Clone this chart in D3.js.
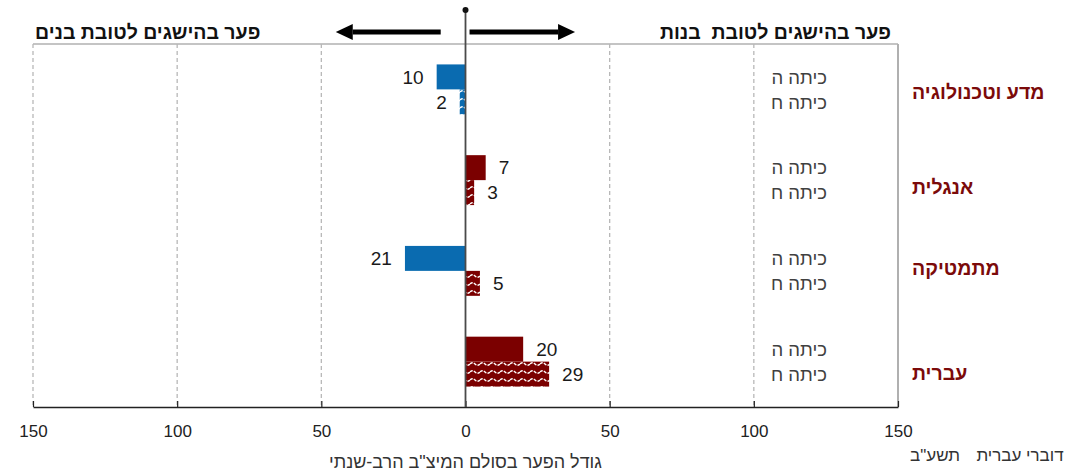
<!DOCTYPE html>
<html lang="he">
<head>
<meta charset="utf-8">
<script src="https://cdn.jsdelivr.net/npm/d3@7"></script>
<style>
  html, body { margin: 0; padding: 0; background: #fff; }
  svg { display: block; font-family: "Liberation Sans", Arial, sans-serif; }
  .keep-spaces { white-space: pre; }
</style>
</head>
<body>
<svg id="chart" width="1068" height="476"></svg>
<script>
// Achievement gap (girls minus boys) on the multi-year MEITZAV scale, Hebrew speakers
const subjects = ["מדע וטכנולוגיה", "אנגלית", "מתמטיקה", "עברית"];
const grades = ["כיתה ה", "כיתה ח"];
const gapGrade5 = [-10, 7, -21, 20];
const gapGrade8 = [-2, 3, 5, 29];
const tickValues = [-150, -100, -50, 0, 50, 100, 150];
const headerBoys = "פער בהישגים לטובת בנים";
const headerGirls = "פער בהישגים לטובת  בנות";
const axisTitle = "גודל הפער בסולם המיצ\"ב הרב-שנתי";
const yearNote = "תשע\"ב";
const groupNote = "דוברי עברית";

// vertical nudges for the subject names (layout only)
const subjectLabelShift = [3, 7, -3, 11];

const svg = d3.select("#chart");
const plot = { left: 33, right: 898, top: 44, bottom: 407 };

const x = d3.scaleLinear().domain([-150, 150]).range([plot.left, plot.right]);
const y = d3.scaleBand().domain(subjects).range([plot.top, plot.bottom])
  .paddingInner(0.45).paddingOuter(0.225);
const yGrade = d3.scaleBand().domain(grades).range([0, y.bandwidth()]);

const rows = [];
subjects.forEach((s, i) => {
  rows.push({ subject: s, grade: grades[0], value: gapGrade5[i] });
  rows.push({ subject: s, grade: grades[1], value: gapGrade8[i] });
});

const RED = "#7b0000", BLUE = "#0a6bb0";

// wavy hatching used for the grade 8 bars
const defs = svg.append("defs");
[["waveRed", RED], ["waveBlue", BLUE]].forEach(([id, c]) => {
  const p = defs.append("pattern").attr("id", id)
    .attr("patternUnits", "userSpaceOnUse").attr("width", 10).attr("height", 8);
  p.append("rect").attr("width", 10).attr("height", 8).attr("fill", c);
  p.append("path").attr("d", "M0,4 Q2.5,1.5 5,4 T10,4")
    .attr("fill", "none").attr("stroke", "#fff").attr("stroke-width", 1.3)
    .attr("stroke-dasharray", "3,1.2");
});

// top frame line
svg.append("line").attr("x1", plot.left).attr("x2", plot.right)
  .attr("y1", plot.top).attr("y2", plot.top)
  .attr("stroke", "#c4c4c4").attr("stroke-width", 2);

// gridlines (dashed) and right frame (solid)
svg.append("g").selectAll("line")
  .data(tickValues.filter(v => v !== 0))
  .join("line")
  .attr("x1", d => x(d)).attr("x2", d => x(d))
  .attr("y1", plot.top).attr("y2", plot.bottom)
  .attr("stroke", d => d === 150 ? "#b0b0b0" : "#b8b8b8")
  .attr("stroke-width", d => d === 150 ? 2 : 1.3)
  .attr("stroke-dasharray", d => d === 150 ? null : "4,3");

// bottom axis
const axis = d3.axisBottom(x).tickValues(tickValues)
  .tickFormat(d => Math.abs(d)).tickSize(0).tickPadding(18);
const gx = svg.append("g").attr("transform", `translate(0,${plot.bottom})`).call(axis);
gx.select(".domain").attr("stroke", "#222").attr("stroke-width", 1.5);
gx.selectAll(".tick text").attr("font-size", 17).attr("fill", "#222")
  .attr("font-family", "'Liberation Sans Narrow', 'Liberation Sans', Arial, sans-serif");
gx.selectAll(".tick").append("line").attr("y1", 0).attr("y2", -6)
  .attr("stroke", "#222").attr("stroke-width", 1.2);

// bars
const barY = d => y(d.subject) + yGrade(d.grade);
svg.append("g").selectAll("rect")
  .data(rows)
  .join("rect")
  .attr("x", d => x(Math.min(0, d.value)))
  .attr("width", d => Math.abs(x(d.value) - x(0)))
  .attr("y", barY)
  .attr("height", yGrade.bandwidth())
  .attr("fill", d => {
    const neg = d.value < 0;
    if (d.grade === grades[0]) return neg ? BLUE : RED;
    return neg ? "url(#waveBlue)" : "url(#waveRed)";
  });

// value labels
svg.append("g").selectAll("text")
  .data(rows)
  .join("text")
  .attr("x", d => d.value < 0 ? x(d.value) - 13 : x(d.value) + 13)
  .attr("y", d => barY(d) + yGrade.bandwidth() / 2)
  .attr("dy", "0.36em")
  .attr("text-anchor", d => d.value < 0 ? "end" : "start")
  .attr("font-size", 19).attr("fill", "#1a1a1a")
  .text(d => Math.abs(d.value));

// grade labels
svg.append("g").selectAll("text")
  .data(rows)
  .join("text")
  .attr("x", 827)
  .attr("y", d => barY(d) + yGrade.bandwidth() / 2)
  .attr("dy", "0.36em")
  .attr("text-anchor", "end")
  .attr("font-size", 18.5).attr("fill", "#404040")
  .text(d => d.grade);

// subject names
svg.append("g").selectAll("text")
  .data(subjects)
  .join("text")
  .attr("x", 912)
  .attr("y", (d, i) => y(d) + y.bandwidth() / 2 + subjectLabelShift[i])
  .attr("dy", "0.36em")
  .attr("font-size", 19.5).attr("font-weight", "bold").attr("fill", "#7b0a0a")
  .text(d => d);

// zero line with dot
svg.append("line").attr("x1", x(0)).attr("x2", x(0))
  .attr("y1", 10).attr("y2", plot.bottom)
  .attr("stroke", "#4a4a4a").attr("stroke-width", 1.8);
svg.append("circle").attr("cx", x(0)).attr("cy", 10).attr("r", 3).attr("fill", "#111");

// direction arrows
function arrow(x0, x1, yy) {
  const dir = Math.sign(x1 - x0);
  const head = 17;
  svg.append("line").attr("x1", x0).attr("x2", x1 - dir * head)
    .attr("y1", yy).attr("y2", yy).attr("stroke", "#000").attr("stroke-width", 5);
  svg.append("path")
    .attr("d", `M${x1},${yy} L${x1 - dir * head},${yy - 8} L${x1 - dir * head},${yy + 8} Z`)
    .attr("fill", "#000");
}
arrow(x(-8.6), x(-45), 32);
arrow(x(1.4), x(38), 32);

// headers
svg.append("text").attr("x", 35).attr("y", 39)
  .attr("font-size", 19.5).attr("font-weight", "bold").attr("fill", "#111")
  .attr("class", "keep-spaces")
  .text(headerBoys);
svg.append("text").attr("x", 891).attr("y", 39).attr("text-anchor", "end")
  .attr("font-size", 19.5).attr("font-weight", "bold").attr("fill", "#111")
  .attr("class", "keep-spaces")
  .text(headerGirls);

// axis title and notes
svg.append("text").attr("x", x(0)).attr("y", 468).attr("text-anchor", "middle")
  .attr("font-size", 18).attr("fill", "#333").text(axisTitle);
svg.append("text").attr("x", 935).attr("y", 461).attr("text-anchor", "middle")
  .attr("font-size", 17).attr("fill", "#333").text(yearNote);
svg.append("text").attr("x", 1020).attr("y", 461).attr("text-anchor", "middle")
  .attr("font-size", 17).attr("fill", "#333").text(groupNote);
</script>
</body>
</html>
